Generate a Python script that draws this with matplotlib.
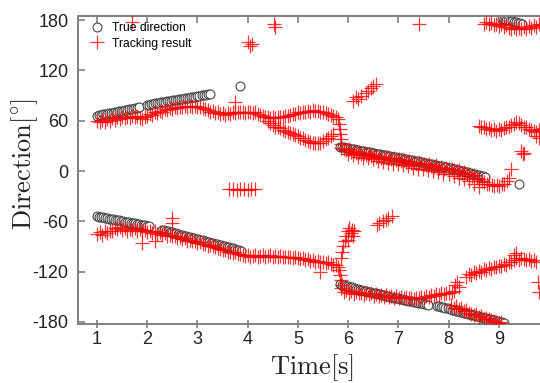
import numpy as np
import matplotlib
matplotlib.use("Agg")
import matplotlib.pyplot as plt

plt.rcParams['mathtext.fontset'] = 'cm'
plt.rcParams['font.family'] = ['Liberation Sans', 'DejaVu Sans']
plt.rcParams['axes.unicode_minus'] = False

# ---------------- True direction (open circles) ----------------
STEP_C = 0.04
true_u1_t0 = 1.00
true_u1 = [66, 66.5, 67, 67.5, 68, 68.4, 68.9, 69.3, 69.8, 70.3, 70.7, 71.2, 71.7,
           72.1, 72.6, 73, 73.5, 74, 74.4, 74.9, 75.4, 76]
true_u2_t0 = 2.00
true_u2 = [79, 79.4, 79.8, 80.3, 80.7, 81.1, 81.5, 81.9, 82.3, 82.7, 83.1, 83.6, 84,
           84.4, 84.8, 85.2, 85.6, 86, 86.4, 86.9, 87.3, 87.7, 88.1, 88.5, 88.9, 89.3,
           89.7, 90.2, 90.6, 91, 91.5, 92]
true_lone_t = [3.84, 9.40]
true_lone_v = [101, -15]
true_l1_t0 = 1.00
true_l1 = [-54, -54.5, -55, -55.4, -55.8, -56.3, -56.7, -57.2, -57.6, -58, -58.5,
           -58.9, -59.4, -59.8, -60.2, -60.7, -61.1, -61.6, -62, -62.4, -62.9, -63.3,
           -63.8, -64.2, -64.7, -65.2, -65.8]
true_l2_t0 = 2.30
true_l2 = [-70, -70.6, -71.3, -71.9, -72.6, -73.2, -73.8, -74.5, -75.1, -75.8, -76.4,
           -77, -77.7, -78.3, -79, -79.6, -80.2, -80.9, -81.5, -82.2, -82.8, -83.4,
           -84.1, -84.7, -85.4, -86, -86.6, -87.3, -87.9, -88.6, -89.2, -89.8, -90.5,
           -91.1, -91.8, -92.4, -93, -93.7, -94.3, -95]
true_r1_t0 = 5.84
true_r1 = [29, 28.6, 28.1, 27.7, 27.2, 26.8, 26.3, 25.9, 25.4, 25, 24.5, 24.1, 23.6,
           23.2, 22.7, 22.3, 21.8, 21.4, 20.9, 20.5, 20, 19.6, 19.1, 18.7, 18.2, 17.8,
           17.3, 16.9, 16.4, 16, 15.5, 15.1, 14.6, 14.2, 13.7, 13.3, 12.8, 12.4, 11.9,
           11.5, 11, 10.5, 10, 9.5, 9, 8.5, 8, 7.5, 7, 6.5, 6, 5.5, 5, 4.4, 3.8, 3.2,
           2.6, 2, 1.4, 0.8, 0.2, -0.4, -1, -1.6, -2.2, -2.8, -3.4, -4, -4.6, -5.2,
           -5.8, -6.4, -7]
true_r2_t0 = 5.84
true_r2 = [-135, -135.7, -136.3, -137, -137.6, -138.3, -138.9, -139.6, -140.2, -140.8,
           -141.4, -142, -142.6, -143.2, -143.8, -144.4, -145, -145.6, -146.1, -146.7,
           -147.2, -147.8, -148.3, -148.9, -149.4, -150, -150.5, -151, -151.5, -152,
           -152.5, -153, -153.5, -154, -154.5, -155, -155.5, -156, -156.5, -157, -157.5,
           -158, -158.5, -159, -160]
true_r3_t0 = 7.78
true_r3 = [-161, -161.6, -162.2, -162.8, -163.4, -164, -164.6, -165.2, -165.8, -166.4,
           -167, -167.6, -168.2, -168.8, -169.4, -170, -170.6, -171.2, -171.8, -172.4,
           -173, -173.6, -174.2, -174.8, -175.4, -176, -176.6, -177.2, -177.8, -178.4,
           -179, -179.6, -180.2, -181]
true_r4_t0 = 9.06
true_r4 = [181.5, 181, 180.3, 179.7, 179.1, 178.5, 177.9, 177.3, 176.7, 176.2, 175.6]

# ---------------- Tracking result (red plus) ----------------
STEP_R = 0.05
trk_a_t0 = 1.00
trk_a = [60, 58, 61, 59, 62, 60, 63, 61, 64, 62, 64, 63, 65, 63, 66, 64, 66, 63, 62, 65,
         66, 68, 67, 70, 69, 72, 71, 74, 73, 75, 74, 77, 75, 77, 76, 78, 76, 78, 77, 78,
         76, 77, 75, 74, 73, 71, 72, 69, 70, 68, 69, 67, 69, 68, 70, 69, 71, 70, 71, 69,
         71, 70, 69, 70, 68, 67, 66, 64, 65, 63, 65, 63, 64, 65, 64, 66, 66, 67, 68, 68,
         70, 69, 71, 71, 72, 71, 73, 72, 72, 71, 70, 69, 68, 67, 66, 64, 62]
trk_b_t0 = 4.40
trk_b = [60, 57, 55, 53, 52, 51, 49, 48, 47, 45, 44, 43, 42, 40, 39, 37, 36, 35, 34, 33,
         33, 34, 36, 38, 40, 42, 44]
trk_c_t0 = 5.86
trk_c = [28, 26, 25, 26, 23, 24, 22, 23, 20, 21, 19, 20, 18, 19, 17, 18, 16, 17, 15, 16,
         14, 15, 13, 14, 12, 13, 11, 12, 10, 11, 9, 10, 8, 9, 7, 8, 6, 5, 7, 4, 5, 3, 4,
         2, 3, 1, 0, 1, -2, -1, -4, -3, -6, -5, -8, -10, -12, -13, -15, -16, -17, -18,
         -17, -18, -16, -15, -12]
trk_c2_t0 = 6.00
trk_c2 = [20, 19, 17, 16, 15, 14, 12, 11, 10, 9, 8, 7, 6, 4, 3, 3, 1, 0, -1, -3, -4, -6,
          -8, -10, -12, -15, -19]
trk_d_t0 = 8.60
trk_d = [54, 52, 53, 50, 51, 49, 50, 48, 50, 49, 51, 52, 53, 55, 56, 58, 57, 55, 53, 52,
         50, 49, 48, 47, 49, 50, 51, 50, 52]
trk_e_t0 = 8.70
trk_e = [176, 178, 175, 177, 174, 176, 173, 175, 172, 174, 171, 170, 172, 169, 171, 170,
         172, 170, 173, 171, 174, 172, 175, 173, 176, 174, 177]
trk_f_t0 = 1.00
trk_f = [-75, -73, -76, -72, -74, -71, -72, -68, -69, -67, -70, -68, -71, -69, -70, -68,
         -71, -69, -72, -70, -73, -71, -74, -72, -75, -73, -76, -74, -77, -76, -78, -77,
         -80, -79, -81, -80, -83, -82, -84, -84, -86, -85, -87, -87, -89, -88, -90, -91,
         -92, -93, -94, -94, -96, -96, -98, -97, -99, -99, -100, -101, -100, -102, -101,
         -100, -102, -101, -100, -102, -101, -100, -102, -101, -102, -101, -103, -102,
         -103, -102, -104, -103, -104, -105, -104, -106, -105, -107, -106, -108, -107,
         -109, -108, -110, -109, -111, -112, -112, -114]
trk_g_t0 = 5.86
trk_g = [-140, -144, -142, -146, -143, -147, -144, -146, -145, -148, -145, -147, -146,
         -149, -147, -149, -148, -150, -148, -150, -149, -151, -149, -151, -150, -152,
         -150, -152, -151, -153, -151, -152, -150, -151, -149, -150, -148, -149, -147,
         -148, -146, -147, -145, -146, -144, -143]
trk_h_t0 = 8.05
trk_h = [-160, -163, -161, -165, -164, -167, -166, -169, -170, -172, -171, -174, -173,
         -176, -175, -177, -178, -179, -180, -181, -180]
trk_i_t0 = 8.35
trk_i = [-126, -123, -124, -121, -122, -119, -120, -117, -118, -116, -117, -114, -115,
         -113, -113, -111, -112, -109, -108, -106, -104, -106, -104, -105, -106, -105,
         -107, -106, -108]
# isolated / short groups of tracking results
trk_x_t = [5.82, 5.84, 5.84, 5.86, 5.86,
           1.70, 4.52, 4.54, 7.41, 4.00, 4.08, 4.04, 3.75,
           3.62, 3.70, 3.78, 3.85, 3.92, 4.00, 4.06, 4.14,
           6.10, 6.15, 6.20, 6.25, 6.35, 6.40, 6.45, 6.50, 6.55,
           9.20, 9.25, 9.45, 9.48, 9.50, 9.75, 9.80,
           2.49, 2.50, 1.90, 2.15, 5.44,
           5.82, 5.84, 5.86, 5.88,
           5.86, 5.88, 5.90, 5.94, 5.96, 6.00, 6.02, 6.05, 6.08, 6.10, 6.12, 6.00,
           6.58, 6.62, 6.70, 6.75, 6.80, 6.88,
           8.12, 8.17, 8.20, 9.78, 9.80, 9.30, 9.35]
trk_x_v = [56, 50, 44, 38, 32,
           178, 176, 172, 176, 154, 152, 149, 82,
           -22, -21, -23, -22, -21, -23, -22, -21,
           84, 88, 86, 90, 93, 96, 99, 102, 104,
           -8, 2, 24, 20, 22, 42, 40,
           -56, -62, -86, -84, -120,
           -118, -124, -130, -136,
           -104, -96, -90, -84, -78, -72, -68, -74, -70, -78, -72, -82,
           -64, -62, -60, -58, -56, -54,
           -136, -132, -138, -132, -144, -100, -98]


def times(t0, step, vals):
    return t0 + step * np.arange(len(vals))


true_t = np.concatenate([times(true_u1_t0, STEP_C, true_u1), times(true_u2_t0, STEP_C, true_u2),
                         times(true_l1_t0, STEP_C, true_l1), times(true_l2_t0, STEP_C, true_l2),
                         times(true_r1_t0, STEP_C, true_r1), times(true_r2_t0, STEP_C, true_r2),
                         times(true_r3_t0, STEP_C, true_r3), times(true_r4_t0, STEP_C, true_r4),
                         true_lone_t])
true_v = np.concatenate([true_u1, true_u2, true_l1, true_l2, true_r1, true_r2, true_r3,
                         true_r4, true_lone_v])

groups = [(trk_a_t0, trk_a), (trk_b_t0, trk_b), (trk_c_t0, trk_c), (trk_d_t0, trk_d),
          (trk_e_t0, trk_e), (trk_f_t0, trk_f), (trk_g_t0, trk_g), (trk_h_t0, trk_h),
          (trk_i_t0, trk_i)]
trk_t = np.concatenate([times(t0, STEP_R, v) for t0, v in groups] +
                       [times(trk_c2_t0, 0.1, trk_c2), trk_x_t])
trk_v = np.concatenate([v for _, v in groups] + [trk_c2, trk_x_v])

x_ticks = [1, 2, 3, 4, 5, 6, 7, 8, 9, 10]
y_ticks = [-180, -120, -60, 0, 60, 120, 180]

# ---------------- Plot ----------------
fig = plt.figure(figsize=(5.4, 3.83), dpi=100)
ax = fig.add_axes([78 / 540, 59 / 383, (570 - 78) / 540, 308 / 383])

ax.plot(true_t, true_v, linestyle='none', marker='o', markersize=6.4,
        markerfacecolor='white', markeredgecolor='#444444', markeredgewidth=0.8,
        label='True direction', zorder=2)
ax.plot(trk_t, trk_v, linestyle='none', marker='+', markersize=9.5,
        color='#ff0000', markeredgewidth=0.9, alpha=0.8,
        label='Tracking result', zorder=3)

ax.set_xlim(0.62, 10.42)
ax.set_ylim(-182.5, 185)
ax.set_xticks(x_ticks)
ax.set_yticks(y_ticks)

for side in ['left', 'bottom', 'top', 'right']:
    ax.spines[side].set_color('#808080')
    ax.spines[side].set_linewidth(1.4)

ax.tick_params(axis='y', direction='in', length=5, width=1.2, color='#808080',
               labelsize=13, pad=7, labelcolor='#222222')
ax.tick_params(axis='x', direction='inout', length=6, width=1.2, color='#808080',
               labelsize=13, pad=2, labelcolor='#222222', top=False)

top = ax.secondary_xaxis('top')
top.set_xticks(x_ticks)
top.tick_params(direction='in', length=5, width=1.2, color='#808080', labeltop=False)
top.spines['top'].set_color('#808080')
top.spines['top'].set_linewidth(1.4)

ax.set_xlabel(r'$\mathrm{Time[s]}$', fontsize=19, color='#222222')
ax.xaxis.set_label_coords(0.476, -0.092)
ax.set_ylabel(r'$\mathrm{Direction}[^{\circ}]$', fontsize=19, color='#222222')
ax.yaxis.set_label_coords(-0.077, 0.52)

leg = ax.legend(loc='upper left', bbox_to_anchor=(0.008, 1.0), frameon=False,
                fontsize=8.7, handlelength=1.5, handletextpad=0.5,
                borderaxespad=0.1, labelspacing=0.3)

fig.savefig('out.png', dpi=100)
